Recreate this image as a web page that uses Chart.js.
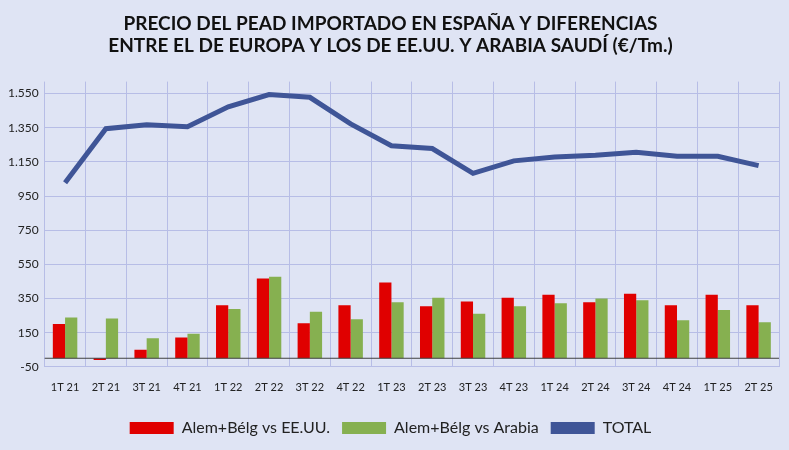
<!DOCTYPE html>
<html><head><meta charset="utf-8">
<script src="https://cdn.jsdelivr.net/npm/chart.js@4"></script>
<style>
html,body{margin:0;padding:0;background:#dfe4f4;}
#wrap{width:789px;height:450px;position:relative;}
</style></head>
<body><div id="wrap"><canvas id="c" width="789" height="450"></canvas></div>
<script>
const quarters = ["1T 21","2T 21","3T 21","4T 21","1T 22","2T 22","3T 22","4T 22","1T 23","2T 23","3T 23","4T 23","1T 24","2T 24","3T 24","4T 24","1T 25","2T 25"];
const vs_usa = [200,-10,50,122,311,467,205,311,444,305,333,355,372,328,378,311,372,311];
const vs_arabia = [239,233,117,144,289,478,272,228,328,355,261,305,322,350,339,222,283,211];
const total = [1028,1344,1367,1356,1472,1544,1528,1372,1244,1228,1083,1156,1178,1189,1206,1183,1183,1128];

const zeroLine = {
  id: "zeroLine",
  afterDatasetsDraw(chart) {
    const y = chart.scales.y.getPixelForValue(0);
    const ctx = chart.ctx;
    ctx.save();
    ctx.strokeStyle = "#404040";
    ctx.lineWidth = 1;
    ctx.beginPath();
    ctx.moveTo(chart.chartArea.left, y);
    ctx.lineTo(chart.chartArea.right, y);
    ctx.stroke();
    ctx.restore();
  }
};

Chart.defaults.font.family = "Lato, 'Liberation Sans', sans-serif";
Chart.defaults.color = "#222";

new Chart(document.getElementById("c"), {
  type: "bar",
  data: {
    labels: quarters,
    datasets: [
      { type: "line", label: "TOTAL", data: total, borderColor: "#3f5597", backgroundColor: "#3f5597",
        borderWidth: 5, pointRadius: 0, tension: 0, order: 0 },
      { label: "Alem+Bélg vs EE.UU.", data: vs_usa, backgroundColor: "#e00000", order: 1,
        barPercentage: 1.0, categoryPercentage: 0.6 },
      { label: "Alem+Bélg vs Arabia", data: vs_arabia, backgroundColor: "#86b050", order: 1,
        barPercentage: 1.0, categoryPercentage: 0.6 }
    ]
  },
  options: {
    responsive: false,
    animation: false,
    layout: { padding: { left: 2, right: 10, top: 0, bottom: 4 } },
    plugins: {
      title: {
        display: true,
        text: ["PRECIO DEL PEAD IMPORTADO EN ESPAÑA Y DIFERENCIAS", "ENTRE EL DE EUROPA Y LOS DE EE.UU. Y ARABIA SAUDÍ (€/Tm.)"],
        font: { size: 19, weight: "bold" }, color: "#111",
        padding: { top: 12, bottom: 24 }
      },
      legend: {
        position: "bottom",
        labels: {
          font: { size: 16 }, color: "#222", boxWidth: 44, boxHeight: 12, padding: 12,
          sort: (a, b) => (a.datasetIndex === 0 ? 1 : 0) - (b.datasetIndex === 0 ? 1 : 0),
          generateLabels(chart) {
            const items = Chart.defaults.plugins.legend.labels.generateLabels(chart);
            items.forEach(i => { if (i.datasetIndex === 0) { i.lineWidth = 0; i.fillStyle = "#3f5597"; } });
            return items;
          }
        }
      },
      tooltip: { enabled: false }
    },
    scales: {
      x: {
        grid: { color: "#b7bde6", drawTicks: false },
        border: { display: false },
        ticks: { font: { size: 11 }, padding: 14, maxRotation: 0, autoSkip: false }
      },
      y: {
        min: -50, max: 1620,
        grid: { color: "#b7bde6", drawTicks: false },
        border: { display: false },
        ticks: {
          stepSize: 200, padding: 6, font: { size: 12 },
          callback: v => v > 1600 ? "" : v.toLocaleString("de-DE")
        },
        afterBuildTicks(axis) {
          axis.ticks = [];
          for (let v = -50; v <= 1550; v += 200) axis.ticks.push({ value: v });
        }
      }
    }
  },
  plugins: [zeroLine]
});
</script></body></html>
